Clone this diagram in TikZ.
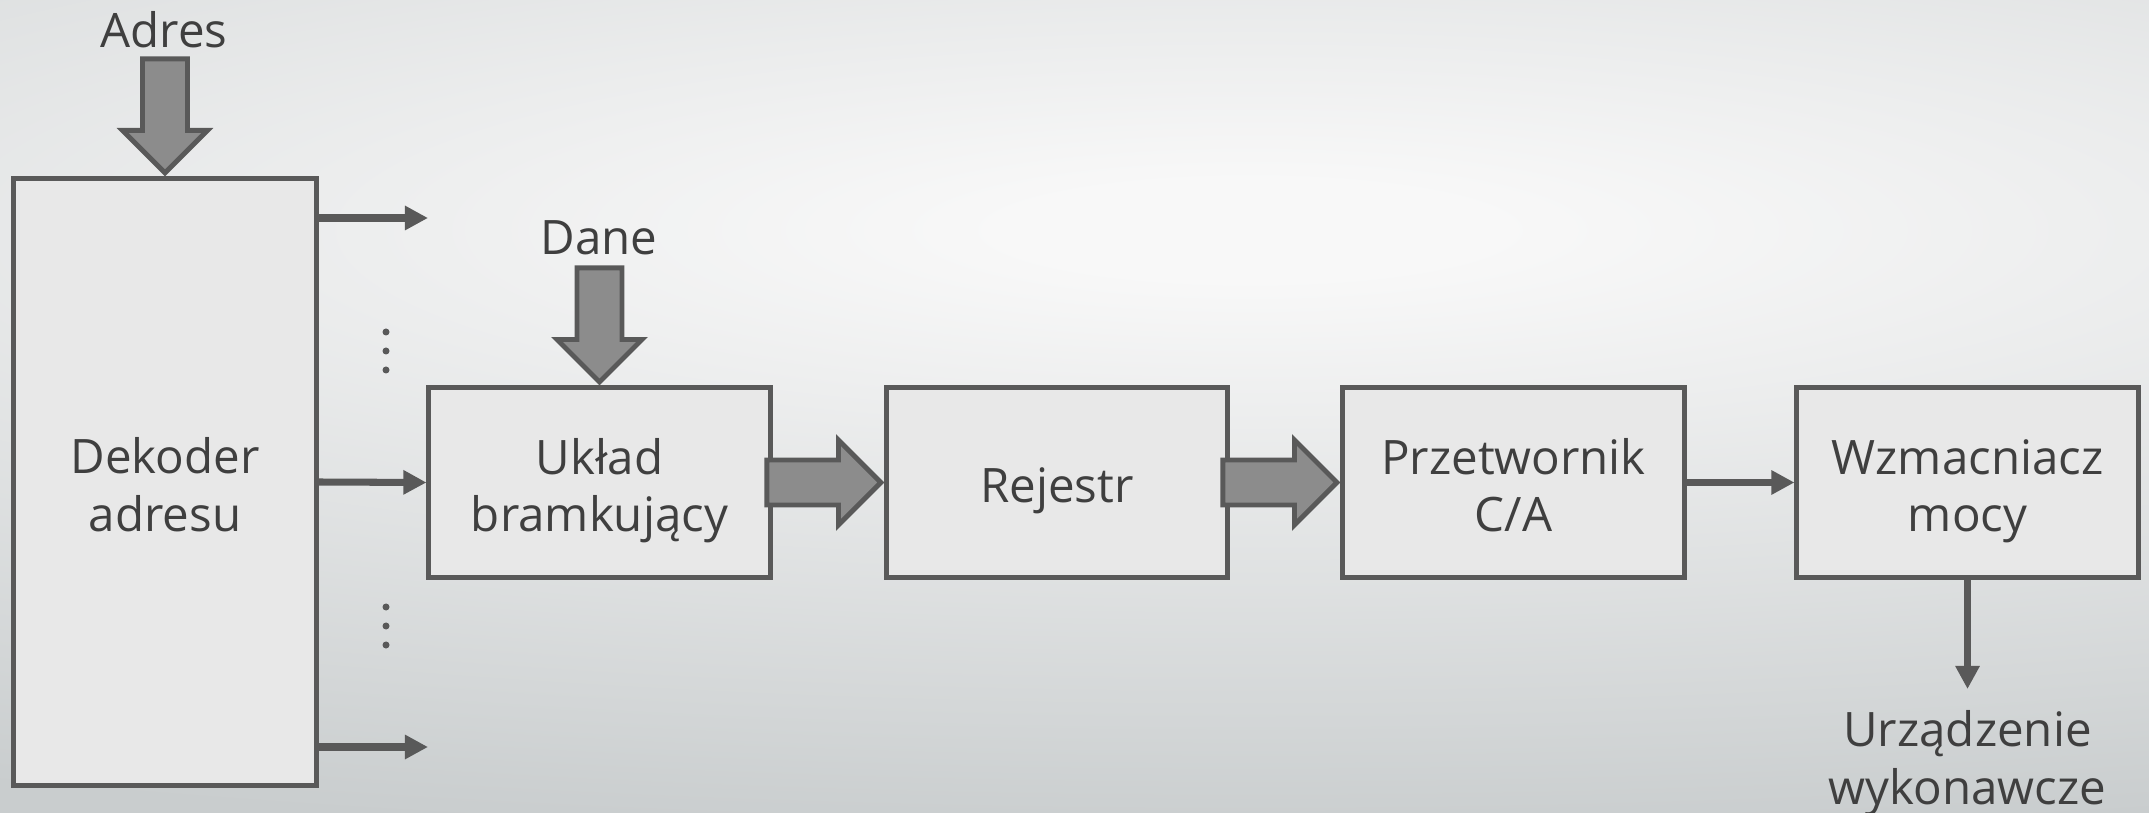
\documentclass[tikz,border=0pt]{standalone}
\usepackage{fontspec}
\setmainfont{Open Sans}
\usetikzlibrary{arrows.meta,shapes.arrows,calc}

\definecolor{edge}{HTML}{595959}
\definecolor{boxfill}{HTML}{E8E8E8}
\definecolor{fatfill}{HTML}{8C8C8C}
\definecolor{ink}{HTML}{3F3F3F}
\definecolor{bgtop}{HTML}{F8F8F8}
\definecolor{bgbot}{HTML}{C9CDCE}
\pgfdeclareradialshading{tlo}{\pgfpoint{0bp}{0bp}}{color(0bp)=(bgtop); color(2bp)=(bgtop); color(25bp)=(bgbot); color(50bp)=(bgbot)}

\tikzset{
  blok/.style={draw=edge, fill=boxfill, line width=1.4pt, text=ink, align=center,
    inner sep=0pt, text height=28pt, text depth=0pt, font=\fontsize{13.5}{16.4}\selectfont},
  napis/.style={text=ink, align=center, inner sep=0pt, font=\fontsize{13.5}{16.4}\selectfont},
  wej/.style={-{Triangle[length=0.23cm,width=0.23cm]}, draw=edge, line width=2pt},
  gruba/.style={single arrow, draw=edge, fill=fatfill, line width=1.4pt,
    minimum height=1.14cm, single arrow head extend=0.2cm, inner sep=0.2cm},
  kropka/.style={circle, fill=edge, inner sep=0pt, minimum size=0.07cm}
}

\begin{document}
\begin{tikzpicture}[x=0.01cm,y=-0.01cm]
\useasboundingbox (0,0) rectangle (2149,813);
\fill[bgbot] (0,0) rectangle (2149,813);
\begin{scope}
\clip (0,0) rectangle (2149,813);
\shade[shading=tlo] (1250,230) ellipse [x radius=3000, y radius=610];
\end{scope}

\node (dekoder) at (165,482) [blok, minimum width=3.03cm, minimum height=6.06cm] {Dekoder\\adresu};
\node (uklad) at (599.5,482.5) [blok, minimum width=3.41cm, minimum height=1.89cm] {Układ\\bramkujący};
\node (rejestr) at (1057,482.5) [blok, text height=11.6pt, minimum width=3.40cm, minimum height=1.89cm] {Rejestr};
\node (przetw) at (1513.5,482.5) [blok, minimum width=3.41cm, minimum height=1.89cm] {Przetwornik\\C/A};
\node (wzmac) at (1967.5,482.5) [blok, minimum width=3.41cm, minimum height=1.89cm] {Wzmacniacz\\mocy};

\node (adres) at (164,48) [napis, anchor=base] {Adres};
\node (dane) at (599,255) [napis, anchor=base] {Dane};
\node (urzadz) at (1967.5,689) [napis, anchor=north, inner ysep=0.16cm, text height=28pt, text depth=0pt] {Urządzenie\\wykonawcze};

\node (fatA) at (dekoder.north) [gruba, shape border rotate=270, anchor=tip] {};
\node (fatD) at (uklad.north) [gruba, shape border rotate=270, anchor=tip] {};
\node (fat1) at (rejestr.west) [gruba, anchor=tip] {};
\node (fat2) at (przetw.west) [gruba, anchor=tip] {};

\coordinate (wyA) at (428,218);
\coordinate (wyB) at (428,747);
\draw [wej] (dekoder.east |- wyA) -- (wyA);
\draw [wej] (dekoder.east) -- (uklad.west);
\draw [wej] (dekoder.east |- wyB) -- (wyB);
\draw [wej] (przetw.east) -- (wzmac.west);
\draw [wej] (wzmac.south) -- (urzadz.north);

\foreach \y in {332,351,370,607,626,645}
  \node (kr\y) at (386,\y) [kropka] {};
\end{tikzpicture}
\end{document}
